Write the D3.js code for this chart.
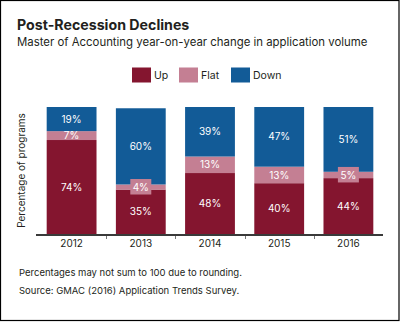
<!DOCTYPE html>
<html>
<head>
<meta charset="utf-8">
<script src="https://cdn.jsdelivr.net/npm/d3@7"></script>
<style>
  html, body { margin: 0; padding: 0; background: #fff; }
  svg { display: block; font-family: Inter, "DejaVu Sans", sans-serif; }
</style>
</head>
<body>
<svg id="chart" width="400" height="322"></svg>
<script>
const years = ["2012", "2013", "2014", "2015", "2016"]
const up = [74, 35, 48, 40, 44]
const flat = [7, 4, 13, 13, 5]
const down = [19, 60, 39, 47, 51]
const seriesKeys = ["Up", "Flat", "Down"]
const seriesColors = ["#84152f", "#c47f93", "#125b97"]
const notes = [
  "Percentages may not sum to 100 due to rounding.",
  "Source: GMAC (2016) Application Trends Survey.",
]

const svg = d3.select("#chart")
const ink = "#231f20"

// frame
svg.append("rect")
  .attr("x", 0.5).attr("y", 0.5)
  .attr("width", 398.5).attr("height", 320)
  .attr("fill", "#fff").attr("stroke", "#000").attr("stroke-width", 1.2)

svg.append("text")
  .attr("x", 17).attr("y", 30)
  .attr("font-size", 14.2).attr("font-weight", 700).attr("fill", ink)
  .text("Post-Recession Declines")

svg.append("text")
  .attr("x", 17).attr("y", 46)
  .attr("font-size", 11.4).attr("fill", ink)
  .text("Master of Accounting year-on-year change in application volume")

const color = d3.scaleOrdinal().domain(seriesKeys).range(seriesColors)

// legend
const legendX = [132, 179, 231]
const legend = svg.append("g")
seriesKeys.forEach((k, i) => {
  const lg = legend.append("g").attr("transform", `translate(${legendX[i]},67.5)`)
  lg.append("rect").attr("width", 19).attr("height", 15).attr("fill", color(k))
  lg.append("text").attr("x", 22).attr("y", 11.5)
    .attr("font-size", 10.5).attr("fill", ink).text(k)
})

const data = years.map((y, i) => ({year: y, Up: up[i], Flat: flat[i], Down: down[i]}))
const stacked = d3.stack().keys(seriesKeys)(data)

const x = d3.scaleBand().domain(years).range([37, 383]).paddingInner(0.28).paddingOuter(0.14)
const y = d3.scaleLinear().domain([0, 100]).range([234, 107])

const g = svg.append("g")

g.selectAll("g.series")
  .data(stacked)
  .join("g")
  .attr("class", "series")
  .attr("fill", (s) => color(s.key))
  .selectAll("rect")
  .data((s) => s)
  .join("rect")
  .attr("x", (d) => x(d.data.year))
  .attr("width", x.bandwidth())
  .attr("y", (d) => y(d[1]))
  .attr("height", (d) => y(d[0]) - y(d[1]))

// segment labels
const lab = svg.append("g").attr("font-size", 10).attr("fill", "#fff").attr("text-anchor", "middle")
stacked.forEach((s) => {
  s.forEach((d) => {
    const v = d[1] - d[0]
    const cx = x(d.data.year) + x.bandwidth() / 2
    const cy = (y(d[0]) + y(d[1])) / 2
    if (v < 6) {
      lab.append("rect")
        .attr("x", cx - 10.5).attr("y", cy - 8)
        .attr("width", 21).attr("height", 15.5)
        .attr("fill", color(s.key))
    }
    lab.append("text")
      .attr("x", cx).attr("y", cy).attr("dy", "0.36em")
      .text(`${v}%`)
  })
})

// axis baseline with ticks between categories
const axis = svg.append("g")
axis.append("line")
  .attr("x1", 36).attr("x2", 383)
  .attr("y1", y(0) + 1).attr("y2", y(0) + 1)
  .attr("stroke", "#3a3a3a").attr("stroke-width", 2)
const gap = x.step() * x.paddingInner() / 2
years.slice(1).forEach((yr) => {
  const tx = Math.round(x(yr) - gap) + 0.5
  axis.append("line")
    .attr("x1", tx).attr("x2", tx)
    .attr("y1", y(0) + 2).attr("y2", y(0) + 5)
    .attr("stroke", "#777").attr("stroke-width", 1)
})
axis.selectAll("text.year")
  .data(years)
  .join("text")
  .attr("class", "year")
  .attr("x", (d) => x(d) + x.bandwidth() / 2)
  .attr("y", 246.5)
  .attr("text-anchor", "middle")
  .attr("font-size", 10).attr("fill", ink)
  .text((d) => d)

svg.append("text")
  .attr("transform", `translate(25,${(y(0) + y(100)) / 2}) rotate(-90)`)
  .attr("text-anchor", "middle")
  .attr("font-size", 10).attr("fill", ink)
  .text("Percentage of programs")

svg.selectAll("text.note")
  .data(notes)
  .join("text")
  .attr("class", "note")
  .attr("x", 19)
  .attr("y", (d, i) => 276 + i * 18)
  .attr("font-size", 9.5).attr("fill", ink)
  .text((d) => d)
</script>
</body>
</html>
